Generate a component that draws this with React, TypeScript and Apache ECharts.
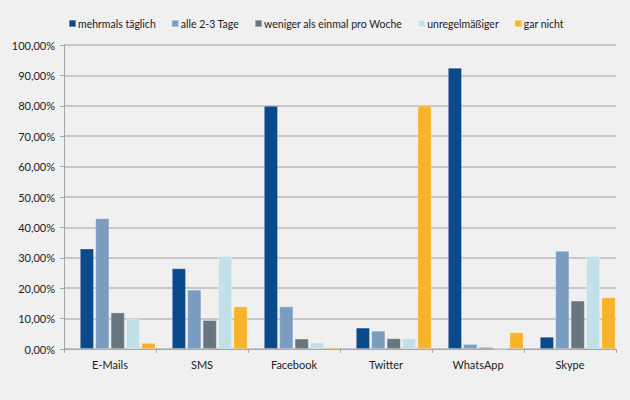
import React, { useEffect, useRef } from "react";
import * as echarts from "echarts";

const categories = ["E-Mails", "SMS", "Facebook", "Twitter", "WhatsApp", "Skype"];
const seriesNames = ["mehrmals täglich", "alle 2-3 Tage", "weniger als einmal pro Woche", "unregelmäßiger", "gar nicht"];
const mehrmalsTaeglich = [33, 26.5, 80, 7, 92.5, 4];
const alle23Tage = [43, 19.5, 14, 6, 1.6, 32.3];
const wenigerAlsEinmal = [12, 9.5, 3.4, 3.5, 0.6, 15.9];
const unregelmaessiger = [10, 30.6, 2.1, 3.5, 0, 30.6];
const garNicht = [2, 14, 0.5, 80, 5.5, 17];
const seriesColors = ["#0b4a8a", "#7a9cc1", "#67767f", "#c2e0ea", "#f7b42b"];
const yTicks = { min: 0, max: 100, interval: 10 };

export default function App() {
  const ref = useRef<HTMLDivElement>(null);
  useEffect(() => {
    const chart = echarts.init(ref.current!, null, { renderer: "svg" });
    const values = [mehrmalsTaeglich, alle23Tage, wenigerAlsEinmal, unregelmaessiger, garNicht];
    const font = "Lato, 'Open Sans', sans-serif";
    const series: any[] = [
      { name: "_leer", type: "bar", data: [], barWidth: 14, barGap: "10%" },
      ...seriesNames.map((n, i) => ({
        name: n,
        type: "bar",
        data: values[i],
        barWidth: 14,
        barGap: "10%",
        itemStyle: { color: seriesColors[i], borderColor: "rgba(255,255,255,0.35)", borderWidth: 0.8 },
      })),
    ];
    chart.setOption({
      animation: false,
      backgroundColor: "#f0f0f0",
      textStyle: { fontFamily: font },
      legend: {
        data: seriesNames,
        left: 63,
        top: 13,
        itemWidth: 7,
        itemHeight: 7,
        itemGap: 15,
        icon: "rect",
        textStyle: { fontFamily: font, fontSize: 10.5, color: "#222", padding: [0, 0, 0, -3] },
      },
      color: ["transparent", ...seriesColors],
      grid: { left: 64, right: 14, top: 45, bottom: 51, containLabel: false },
      xAxis: {
        type: "category",
        data: categories,
        axisLine: { lineStyle: { color: "#a6a6a6", width: 1 } },
        axisTick: { show: true, length: 4, lineStyle: { color: "#a6a6a6" } },
        axisLabel: { fontFamily: font, fontSize: 11, color: "#222", margin: 10 },
      },
      yAxis: {
        type: "value",
        min: yTicks.min,
        max: yTicks.max,
        interval: yTicks.interval,
        axisLine: { show: true, lineStyle: { color: "#a6a6a6", width: 1 } },
        axisTick: { show: true, length: 4, lineStyle: { color: "#a6a6a6" } },
        axisLabel: {
          fontFamily: font,
          fontSize: 11,
          color: "#222",
          margin: 9,
          formatter: (v: number) => v.toFixed(2).replace(".", ",") + "%",
        },
        splitLine: { lineStyle: { color: "#b8b8b8", width: 1.5 } },
      },
      series,
    });
    return () => chart.dispose();
  }, []);
  return <div ref={ref} style={{ position: "fixed", left: 0, top: 0, width: 630, height: 400 }} />;
}
